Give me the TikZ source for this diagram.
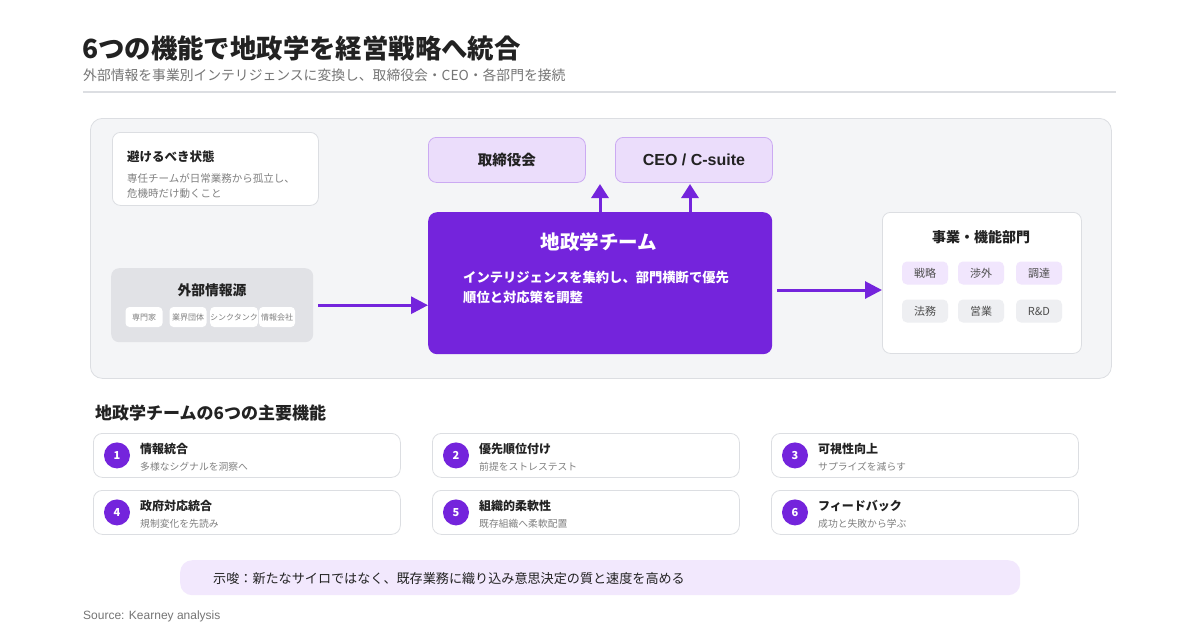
\documentclass[tikz,border=0pt]{standalone}
\usepackage{fontspec}
\setmainfont{Noto Sans CJK JP}
\newfontfamily\srcfont{Liberation Sans}
\usetikzlibrary{arrows.meta}
\definecolor{pur}{HTML}{7424DC}
\definecolor{lpur}{HTML}{EBDDFB}
\definecolor{lpurb}{HTML}{CBAAF2}
\definecolor{chipp}{HTML}{F1E6FD}
\definecolor{chipg}{HTML}{EEEFF2}
\definecolor{panel}{HTML}{F4F5F7}
\definecolor{panelb}{HTML}{DCDEE2}
\definecolor{gbox}{HTML}{E1E2E6}
\definecolor{dark}{HTML}{222222}
\definecolor{gtxt}{HTML}{808080}
\definecolor{subg}{HTML}{757575}
\definecolor{bar}{HTML}{F2E8FD}
\newcommand\fs[1]{\fontsize{#1}{#1}\selectfont}
\tikzset{
  box/.style={rounded corners=8pt, inner sep=0pt},
  arr/.style={pur, line width=3pt, -{Triangle[length=17pt,width=17pt]}},
  uparr/.style={pur, line width=3pt, -{Triangle[length=14pt,width=17pt]}},
  chip/.style={rounded corners=4pt, fill=white, inner sep=0pt, minimum height=20pt, text=gtxt, font=\fs{8}},
  dchip/.style={rounded corners=5pt, inner sep=0pt, minimum height=23pt, minimum width=46pt, text=dark!80, font=\fs{11}},
  card/.style={rounded corners=9pt, draw=panelb, line width=0.8pt, fill=white, minimum width=307pt, minimum height=44pt, inner sep=0pt},
  num/.style={circle, fill=pur, text=white, font=\bfseries\fs{11}, minimum size=26pt, inner sep=0pt},
  ctitle/.style={anchor=west, inner sep=0pt, text=dark, font=\bfseries\fs{12}},
  csub/.style={anchor=west, inner sep=0pt, text=gtxt, font=\fs{9.8}},
  txt/.style={inner sep=0pt},
}
\newcommand\fcard[6]{% name, x, y, num, title, sub
  \node[card, anchor=north west] (#1) at (#2,#3) {};
  \node[num] (#1n) at ([xshift=24pt]#1.west) {#4};
  \node[ctitle] (#1t) at ([xshift=47pt,yshift=6pt]#1.west) {#5};
  \node[csub] (#1s) at ([xshift=47pt,yshift=-11pt]#1.west) {#6};
}
\begin{document}
\begin{tikzpicture}[x=1pt,y=-1pt]
\useasboundingbox (0,0) rectangle (1200,630);
\fill[white] (0,0) rectangle (1200,630);
% title
\node[txt, anchor=west, text=dark, font=\bfseries\fs{26.4}] (title) at (82,48) {6つの機能で地政学を経営戦略へ統合};
\node[txt, anchor=west, text=subg, font=\fs{13.8}] (subtitle) at (83,75.5) {外部情報を事業別インテリジェンスに変換し、取締役会・CEO・各部門を接続};
\draw[panelb, line width=1.6pt] (83,92) -- (1116,92);
% panel
\node[box, draw=panelb, fill=panel, line width=0.8pt, rounded corners=12pt, anchor=north west, minimum width=1021pt, minimum height=260pt] (panel) at (90,118) {};
% avoid box
\node[box, draw=panelb, fill=white, line width=0.8pt, anchor=north west, minimum width=206pt, minimum height=73pt] (avoid) at (112,132) {};
\node[txt, anchor=west, text=dark, font=\bfseries\fs{12.5}] (avoidt) at (127,157) {避けるべき状態};
\node[txt, anchor=north west, text=gtxt, font=\fs{10.5}, align=left] (avoids) at (127,173) {専任チームが日常業務から孤立し、\\[5pt]危機時だけ動くこと};
% external sources
\node[box, fill=gbox, anchor=north west, minimum width=202pt, minimum height=74pt] (ext) at (111,268) {};
\node[txt, text=dark, font=\bfseries\fs{13.8}] (extt) at (212,290) {外部情報源};
\node[chip, minimum width=37pt] (c1) at (144,317) {専門家};
\node[chip, minimum width=37pt] (c2) at (188,317) {業界団体};
\node[chip, minimum width=40pt] (c3) at (234,317) {シンクタンク};
\node[chip, minimum width=36pt] (c4) at (277,317) {情報会社};
% team
\node[box, fill=pur, rounded corners=9pt, anchor=north west, minimum width=344pt, minimum height=142pt] (team) at (428,212) {};
\node[txt, text=white, font=\bfseries\fs{19.5}] (teamt) at (599,242) {地政学チーム};
\node[txt, anchor=north west, text=white, font=\bfseries\fs{13.3}, align=left] (teams) at (463,271) {インテリジェンスを集約し、部門横断で優先\\[6.5pt]順位と対応策を調整};
% board / ceo
\node[box, fill=lpur, draw=lpurb, line width=0.8pt, anchor=north west, minimum width=157pt, minimum height=45pt, text=dark, font=\bfseries\fs{14.5}] (board) at (428,137) {取締役会};
\node[box, fill=lpur, draw=lpurb, line width=0.8pt, anchor=north west, minimum width=157pt, minimum height=45pt, text=dark, font=\srcfont\bfseries\fs{16}] (ceo) at (615,137) {CEO / C-suite};
\coordinate (up1) at (600,184);
\coordinate (up2) at (690,184);
\draw[uparr] (team.north -| up1) -- (up1);
\draw[uparr] (team.north -| up2) -- (up2);
% depts
\node[box, draw=panelb, fill=white, line width=0.8pt, anchor=north west, minimum width=199pt, minimum height=141pt] (dept) at (882,212) {};
\node[txt, text=dark, font=\bfseries\fs{14}] (deptt) at (981,237) {事業・機能部門};
\node[dchip, fill=chipp] (d1) at (925,273) {戦略};
\node[dchip, fill=chipp] (d2) at (981,273) {渉外};
\node[dchip, fill=chipp] (d3) at (1039,273) {調達};
\node[dchip, fill=chipg] (d4) at (925,311) {法務};
\node[dchip, fill=chipg] (d5) at (981,311) {営業};
\node[dchip, fill=chipg] (d6) at (1039,311) {R\&D};
% arrows
\draw[arr] ([xshift=5pt]ext.east) -- (team.west |- ext.east);
\coordinate (ra) at (777,290);
\draw[arr] (ra) -- (dept.west |- ra);
% functions
\node[txt, anchor=west, text=dark, font=\bfseries\fs{17}] (fh) at (95,413) {地政学チームの6つの主要機能};
\fcard{f1}{93}{433}{1}{情報統合}{多様なシグナルを洞察へ}
\fcard{f2}{432}{433}{2}{優先順位付け}{前提をストレステスト}
\fcard{f3}{771}{433}{3}{可視性向上}{サプライズを減らす}
\fcard{f4}{93}{490}{4}{政府対応統合}{規制変化を先読み}
\fcard{f5}{432}{490}{5}{組織的柔軟性}{既存組織へ柔軟配置}
\fcard{f6}{771}{490}{6}{フィードバック}{成功と失敗から学ぶ}
% bottom bar
\node[box, fill=bar, rounded corners=12pt, anchor=north west, minimum width=840pt, minimum height=35pt] (barn) at (180,560) {};
\node[txt, anchor=west, text=dark, font=\fs{13.1}] (bart) at (213,579) {示唆：新たなサイロではなく、既存業務に織り込み意思決定の質と速度を高める};
\node[txt, anchor=west, text=subg, font=\srcfont\fs{12}] (src) at (83,616) {Source: Kearney analysis};
\end{tikzpicture}
\end{document}
